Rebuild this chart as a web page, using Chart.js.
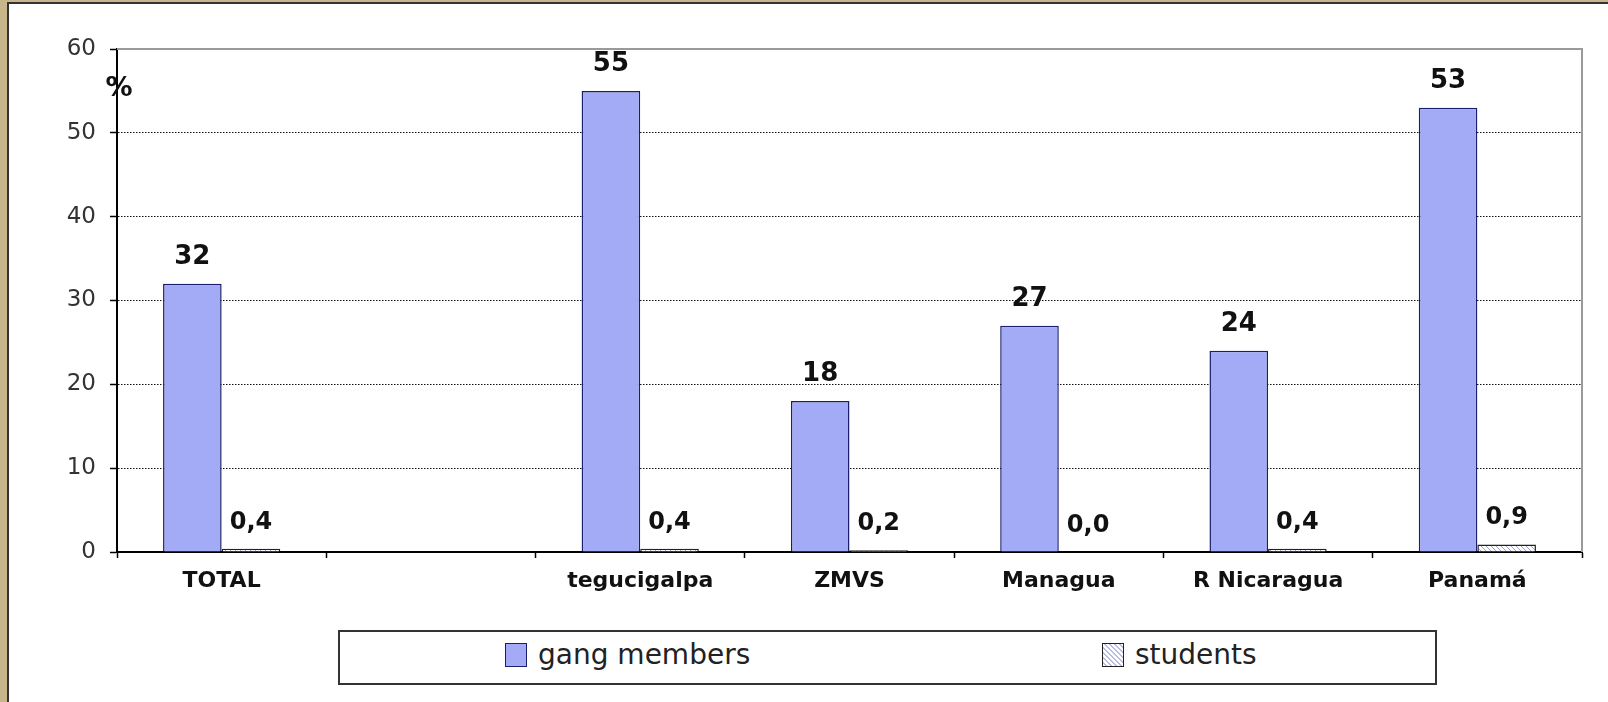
<!DOCTYPE html>
<html>
<head>
<meta charset="utf-8">
<script src="https://cdn.jsdelivr.net/npm/chart.js@4.4.1/dist/chart.umd.min.js"></script>
<style>
    html, body { margin: 0; padding: 0; }
    body { width: 1608px; height: 702px; background: #c6b68a; position: relative; overflow: hidden; font-family: "DejaVu Sans", Verdana, sans-serif; }
    #frame { position: absolute; left: 7px; top: 2px; right: 0; bottom: 0; background: #fff; border-left: 2px solid #333; border-top: 2px solid #333; }
    #chartBox { position: absolute; left: 0; top: 0; width: 1608px; height: 702px; }
    #legend { position: absolute; left: 338px; top: 630px; width: 1095px; height: 51px; border: 2px solid #333; background: #fff; }
    .item { position: absolute; top: 0; height: 51px; font-size: 28px; color: #222; }
    .swatch { position: absolute; top: 11px; width: 20px; height: 22px; border: 1.5px solid #222; }
    .item span.txt { position: absolute; left: 33px; top: 5px; line-height: 36px; white-space: nowrap; }
</style>
</head>
<body>
<div id="frame"></div>
<div id="chartBox"><canvas id="barChart"></canvas></div>
<div id="legend">
    <div class="item" style="left:165px"><div class="swatch" style="background:#a3abf6;border-color:#1b1f6b"></div><span class="txt">gang members</span></div>
    <div class="item" style="left:762px"><div class="swatch" style="background:repeating-linear-gradient(45deg,#fff 0 2px,#b9bde0 2px 3.5px)"></div><span class="txt">students</span></div>
</div>
<script>
// Datos del gráfico
const categories = ['TOTAL', '', 'tegucigalpa', 'ZMVS', 'Managua', 'R Nicaragua', 'Panamá'];
const gangMembers = [32, null, 55, 18, 27, 24, 53];
const students = [0.4, null, 0.4, 0.2, 0.0, 0.4, 0.9];
const yTicks = [0, 10, 20, 30, 40, 50, 60];

// Patrón rayado para la serie de estudiantes
function makeHatch() {
    const c = document.createElement('canvas');
    c.width = 5;
    c.height = 5;
    const g = c.getContext('2d');
    g.fillStyle = '#fff';
    g.fillRect(0, 0, 5, 5);
    g.strokeStyle = '#9ea3d6';
    g.lineWidth = 1;
    g.beginPath();
    g.moveTo(0, 0);
    g.lineTo(5, 5);
    g.moveTo(-1, 4);
    g.lineTo(1, 6);
    g.moveTo(4, -1);
    g.lineTo(6, 1);
    g.stroke();
    return g.createPattern(c, 'repeat');
}

// Borde gris del área de trazado, etiqueta % y valores sobre las barras
const decorPlugin = {
    id: 'decor',
    beforeDatasetsDraw(chart) {
        const { ctx, chartArea } = chart;
        ctx.save();
        ctx.strokeStyle = '#9a9a9a';
        ctx.lineWidth = 2;
        ctx.beginPath();
        ctx.moveTo(chartArea.left, chartArea.top);
        ctx.lineTo(chartArea.right, chartArea.top);
        ctx.lineTo(chartArea.right, chartArea.bottom);
        ctx.stroke();
        ctx.restore();
    },
    afterDatasetsDraw(chart) {
        const { ctx } = chart;
        ctx.save();
        ctx.fillStyle = '#111';
        ctx.textAlign = 'center';
        ctx.textBaseline = 'alphabetic';
        chart.data.datasets.forEach((ds, i) => {
            ctx.font = i === 0 ? 'bold 26px "DejaVu Sans"' : 'bold 24px "DejaVu Sans"';
            chart.getDatasetMeta(i).data.forEach((bar, j) => {
                const v = ds.data[j];
                if (v === null) return;
                const txt = i === 0 ? String(v) : v.toFixed(1).replace('.', ',');
                ctx.fillText(txt, bar.x, bar.y - 20);
            });
        });
        ctx.font = 'bold 27px "DejaVu Sans"';
        ctx.fillText('%', 119, 96);
        ctx.restore();
    }
};

const ctx = document.getElementById('barChart').getContext('2d');
const barChartInstance = new Chart(ctx, {
    type: 'bar',
    data: {
        labels: categories,
        datasets: [
            {
                label: 'gang members',
                data: gangMembers,
                backgroundColor: '#a3abf6',
                borderColor: '#1b1f6b',
                borderWidth: 1.5,
                categoryPercentage: 0.56,
                barPercentage: 1
            },
            {
                label: 'students',
                data: students,
                backgroundColor: makeHatch(),
                borderColor: '#222',
                borderWidth: 1.5,
                categoryPercentage: 0.56,
                barPercentage: 1
            }
        ]
    },
    options: {
        responsive: true,
        maintainAspectRatio: false,
        animation: false,
        layout: { padding: { left: 0, top: 49, right: 26, bottom: 110 } },
        plugins: {
            legend: { display: false },
            tooltip: { enabled: false }
        },
        scales: {
            x: {
                grid: { drawOnChartArea: false, drawTicks: true, tickLength: 6, tickColor: '#000', tickWidth: 1.5 },
                border: { color: '#000', width: 2 },
                ticks: { color: '#111', font: { family: 'DejaVu Sans', size: 22, weight: 'bold' }, padding: 10, maxRotation: 0, autoSkip: false },
                afterFit(scale) { scale.height = 40; }
            },
            y: {
                min: 0,
                max: 60,
                afterBuildTicks(scale) { scale.ticks = yTicks.map(v => ({ value: v })); },
                grid: {
                    color: c => (c.tick && (c.tick.value === 0 || c.tick.value === 60)) ? 'rgba(0,0,0,0)' : '#111',
                    lineWidth: 1,
                    tickLength: 7,
                    tickColor: '#000',
                    tickWidth: 1.5
                },
                border: { color: '#000', width: 2, dash: [1.5, 1.5] },
                ticks: { color: '#333', font: { family: 'DejaVu Sans', size: 23 }, padding: 14 },
                afterFit(scale) { scale.width = 117; }
            }
        }
    },
    plugins: [decorPlugin]
});
</script>
</body>
</html>
